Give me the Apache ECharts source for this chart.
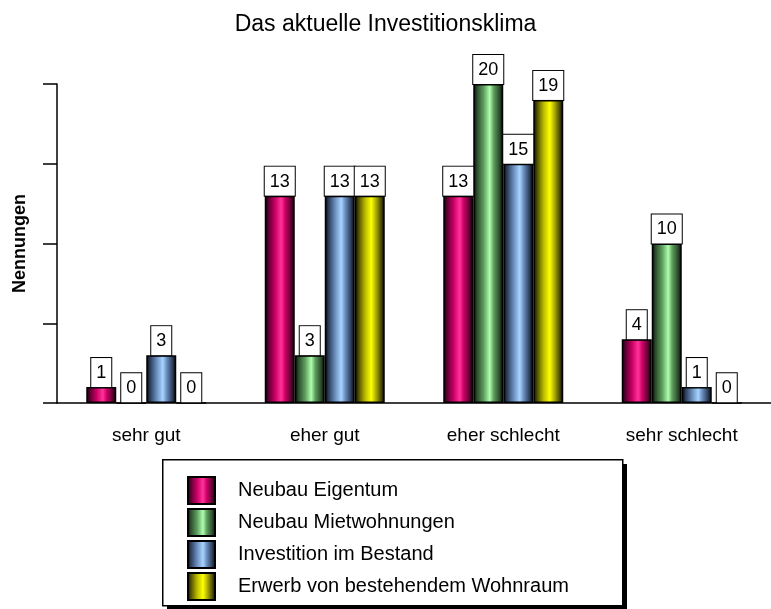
<!DOCTYPE html>
<html><head><meta charset="utf-8">
<script src="https://cdn.jsdelivr.net/npm/echarts@6/dist/echarts.min.js"></script>
<style>html,body{margin:0;padding:0;background:#fff}#c{width:771px;height:609px}</style>
</head><body><div id="c"></div>
<script>
const categories = ['sehr gut', 'eher gut', 'eher schlecht', 'sehr schlecht'];
const neubauEigentum = [1, 13, 13, 4];
const neubauMiet = [0, 3, 20, 10];
const bestand = [3, 13, 15, 1];
const erwerb = [0, 13, 19, 0];
const seriesNames = ['Neubau Eigentum', 'Neubau Mietwohnungen', 'Investition im Bestand', 'Erwerb von bestehendem Wohnraum'];

function grad(dark, mid, bright) {
  return new echarts.graphic.LinearGradient(0, 0, 1, 0, [
    {offset: 0, color: '#000'},
    {offset: 0.12, color: dark},
    {offset: 0.35, color: mid},
    {offset: 0.55, color: bright},
    {offset: 0.68, color: mid},
    {offset: 0.88, color: dark},
    {offset: 1, color: '#000'}
  ]);
}
const colors = [
  grad('#5a0030', '#cc0066', '#ff3399'),
  grad('#2a4a2a', '#5f9f5f', '#b0ffb0'),
  grad('#2a3a55', '#6a8fbf', '#a8d4ff'),
  grad('#4a4a00', '#bbbb00', '#ffff00')
];
const data = [neubauEigentum, neubauMiet, bestand, erwerb];

const chart = echarts.init(document.getElementById('c'));
const font = 'Liberation Sans, Arial, sans-serif';
chart.setOption({
  animation: false,
  title: {text: 'Das aktuelle Investitionsklima', left: 'center', top: 8,
    textStyle: {fontFamily: font, fontSize: 23, fontWeight: 'normal', color: '#000'}},
  grid: {left: 57, right: -6, top: 84, bottom: 206},
  legend: {
    orient: 'vertical', left: 182, top: 471, height: 140, itemWidth: 27, itemHeight: 27, itemGap: 3,
    icon: 'rect',
    textStyle: {fontFamily: font, fontSize: 20, color: '#000', padding: [0, 0, 0, 18]},
    data: seriesNames
  },
  graphic: [{
    type: 'rect', left: 167, top: 464, z: -2,
    shape: {width: 460, height: 146},
    style: {fill: '#000'}
  }, {
    type: 'rect', left: 162, top: 459, z: -1,
    shape: {width: 460, height: 146},
    style: {fill: '#fff', stroke: '#000', lineWidth: 1.5}
  }],
  xAxis: {
    type: 'category', data: categories,
    axisLine: {lineStyle: {color: '#000', width: 1.5}},
    axisTick: {alignWithLabel: true, length: 9, lineStyle: {color: '#000', width: 1.5}},
    axisLabel: {fontFamily: font, fontSize: 19, color: '#000', margin: 23}
  },
  yAxis: {
    type: 'value', min: 0, max: 20, interval: 5,
    name: 'Nennungen', nameLocation: 'middle', nameGap: 28,
    nameTextStyle: {fontFamily: font, fontSize: 18, fontWeight: 'bold', color: '#000'},
    axisLine: {show: true, lineStyle: {color: '#000', width: 1.5}},
    axisTick: {show: true, length: 14, lineStyle: {color: '#000', width: 1.5}},
    axisLabel: {show: false},
    splitLine: {show: false}
  },
  series: data.map((d, i) => ({
    name: seriesNames[i], type: 'bar', data: d, barWidth: 30, barGap: '0%',
    itemStyle: {color: colors[i], borderColor: '#000', borderWidth: 1.5},
    label: {show: true, position: 'top', distance: 0, fontFamily: font, fontSize: 18, color: '#000',
      backgroundColor: '#fff', borderColor: '#000', borderWidth: 1, padding: [5, 5, 4, 5], lineHeight: 20}
  }))
});
</script></body></html>
